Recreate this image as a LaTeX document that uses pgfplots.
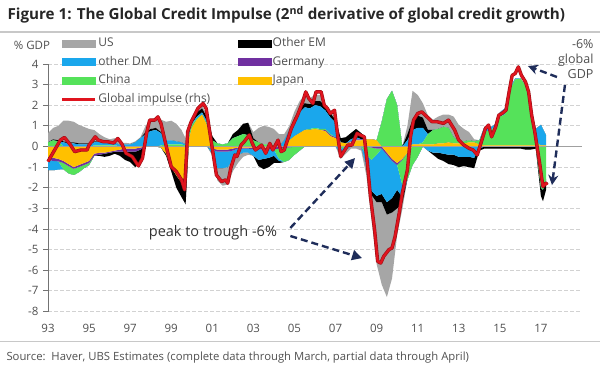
\documentclass[border=0pt]{standalone}
\usepackage{fontspec}
\setmainfont{Open Sans}
\usepackage{pgfplots}
\usepackage{pgfplotstable}
\pgfplotsset{compat=1.18}
\usetikzlibrary{arrows.meta}

\definecolor{cUS}{HTML}{A6A6A6}
\definecolor{cDM}{HTML}{1AA7EC}
\definecolor{cCN}{HTML}{55E25A}
\definecolor{cEM}{HTML}{000000}
\definecolor{cDE}{HTML}{7030A0}
\definecolor{cJP}{HTML}{FFC000}
\definecolor{cRed}{HTML}{E0141E}
\definecolor{cNavy}{HTML}{1F2D5A}
\definecolor{cGrid}{HTML}{D2D2D2}
\definecolor{cZero}{HTML}{A0A0A0}
\definecolor{cRule}{HTML}{C8C8C8}
\definecolor{cTxt}{HTML}{505050}

% contributions by region (% GDP)
\pgfplotstableread{
t jp de cn dm em us
1993.00 -0.50 -0.15 0.20 -0.50 0.00 0.45
1993.25 -0.55 -0.15 0.30 -0.45 0.05 0.55
1993.50 -0.60 -0.12 0.25 -0.40 0.05 0.70
1993.75 -0.70 -0.10 -0.30 0.20 0.05 1.00
1994.00 -0.85 -0.10 -0.35 0.15 0.05 1.05
1994.25 -1.00 -0.08 -0.30 0.15 0.05 1.00
1994.50 -0.90 -0.10 -0.25 0.10 0.05 0.90
1994.75 -0.80 -0.10 -0.15 0.10 0.05 0.80
1995.00 -0.70 -0.10 -0.10 0.10 0.05 0.70
1995.25 -0.35 -0.10 0.05 0.15 0.05 0.55
1995.50 -0.30 -0.10 0.05 0.20 -0.05 0.35
1995.75 -0.30 -0.05 0.05 0.15 -0.15 0.25
1996.00 -0.25 -0.05 0.05 0.10 -0.15 0.20
1996.25 -0.20 -0.05 0.05 0.15 -0.10 0.20
1996.50 -0.15 -0.10 0.02 0.05 -0.20 0.10
1996.75 -0.10 -0.15 0.00 0.10 -0.40 0.08
1997.00 -0.10 -0.15 0.00 0.10 -0.50 0.05
1997.25 -0.10 -0.15 0.00 0.20 -0.75 0.05
1997.50 -0.05 -0.10 0.00 0.40 -0.55 0.05
1997.75 0.00 0.00 0.00 0.60 0.10 0.30
1998.00 0.00 0.00 0.00 0.75 0.10 0.45
1998.25 0.00 0.00 0.00 0.80 0.10 0.50
1998.50 -0.05 0.00 0.05 0.60 0.05 0.60
1998.75 -0.35 0.00 0.10 0.20 -0.10 0.90
1999.00 -1.00 0.00 0.10 0.20 -0.20 0.95
1999.25 -1.40 0.00 0.10 0.15 -0.60 0.85
1999.50 -1.75 0.00 0.10 0.10 -0.70 0.60
1999.70 -2.00 0.00 0.05 0.05 -0.80 0.30
1999.85 0.30 0.00 0.20 0.05 0.10 0.10
2000.00 0.90 0.00 0.15 0.05 0.10 0.10
2000.25 1.30 0.00 0.05 0.10 0.20 0.15
2000.50 1.55 0.00 0.00 0.10 0.20 0.15
2000.75 1.00 0.00 0.10 0.10 0.20 0.10
2001.00 -0.10 -0.05 0.30 -0.20 0.20 -0.10
2001.25 -0.15 -0.10 0.15 -0.80 0.00 -0.60
2001.50 -0.15 -0.10 0.10 -0.80 0.00 -0.85
2001.75 -0.15 -0.10 0.15 -0.75 0.00 -0.85
2002.00 -0.10 -0.10 0.40 -0.40 0.20 -0.60
2002.25 -0.05 -0.05 0.50 -0.30 0.30 -0.40
2002.50 -0.05 -0.05 0.60 -0.20 0.50 -0.20
2002.75 -0.05 -0.05 0.55 -0.20 0.60 -0.10
2003.00 -0.05 -0.10 0.30 -0.30 0.10 0.30
2003.25 -0.05 -0.10 0.20 -0.50 -0.30 0.70
2003.50 -0.05 -0.10 0.10 -0.45 -0.50 0.90
2003.75 -0.05 -0.10 0.10 -0.40 -0.45 0.85
2004.00 -0.05 -0.10 0.05 -0.30 -0.35 0.80
2004.25 0.00 -0.10 -0.50 -0.10 -0.10 0.60
2004.50 0.00 -0.05 -0.70 0.30 0.00 0.30
2004.75 0.30 -0.05 -0.60 0.50 0.00 0.20
2005.00 0.50 0.00 -0.40 0.80 0.10 0.30
2005.25 0.65 0.00 -0.20 1.00 0.15 0.40
2005.50 0.80 0.00 0.00 1.10 0.20 0.40
2005.75 0.80 0.00 0.05 1.00 0.20 0.30
2006.00 0.85 0.00 0.05 1.10 0.20 0.30
2006.25 0.80 0.00 0.05 1.10 0.25 0.30
2006.50 0.75 0.05 0.05 0.90 0.20 0.10
2006.75 0.50 0.05 0.05 0.80 0.20 0.10
2007.00 0.40 0.05 0.00 0.70 0.15 0.10
2007.25 0.20 0.00 -0.10 -0.20 0.20 -0.30
2007.50 0.15 0.00 -0.05 -0.10 0.30 -0.20
2007.75 0.20 0.05 0.00 0.10 0.30 -0.10
2008.00 0.30 0.05 0.00 0.10 0.40 -0.10
2008.25 0.30 0.05 0.00 0.00 0.30 -0.20
2008.50 0.35 0.00 -0.40 -0.60 0.00 -0.40
2008.75 0.35 -0.05 -0.60 -1.50 -0.20 -1.20
2009.00 0.30 -0.10 -0.30 -2.00 -0.30 -3.00
2009.25 0.00 -0.10 1.20 -2.20 -0.40 -4.00
2009.50 -0.30 -0.10 2.30 -2.30 -0.60 -4.00
2009.75 -0.60 -0.10 2.70 -1.80 -0.70 -3.20
2010.00 -0.80 -0.10 2.00 -1.20 -0.90 -1.30
2010.25 -0.60 -0.05 -1.20 -0.60 -0.30 -0.30
2010.50 -0.30 0.00 -1.30 0.30 0.30 0.40
2010.75 0.10 0.00 -0.90 0.70 0.50 1.40
2011.00 0.10 0.00 -0.50 0.80 0.60 1.00
2011.25 0.10 0.00 0.10 0.70 0.50 0.70
2011.50 0.10 0.00 0.50 -0.20 0.20 0.70
2011.75 0.10 0.00 0.70 -0.30 -0.10 0.50
2012.00 0.15 0.00 0.70 -0.30 -0.30 0.60
2012.25 0.15 0.00 0.80 -0.35 -0.35 0.60
2012.50 0.20 0.00 0.70 -0.40 -0.45 0.65
2012.75 0.15 0.00 0.30 -0.40 -0.50 1.00
2013.00 0.15 0.00 0.10 -0.50 -0.50 0.80
2013.25 0.15 0.00 0.10 -0.50 -0.45 0.60
2013.50 0.20 0.00 0.10 -0.50 -0.50 0.40
2013.75 0.20 0.00 0.05 -0.55 -0.50 0.10
2014.00 0.10 0.00 0.20 -0.10 -0.10 0.00
2014.25 0.05 0.00 0.70 0.20 -0.10 0.00
2014.50 0.05 0.00 0.70 0.15 -0.10 0.00
2014.75 0.05 0.00 0.90 0.10 -0.10 0.00
2015.00 0.05 0.00 1.40 0.20 -0.10 0.00
2015.25 0.05 0.00 1.50 0.30 -0.10 0.00
2015.50 0.05 0.00 2.70 0.10 -0.10 0.00
2015.75 0.05 0.00 3.20 0.05 -0.10 0.00
2016.00 0.05 0.00 3.25 0.00 -0.10 0.00
2016.25 0.05 0.00 2.90 0.00 -0.15 0.00
2016.50 0.05 0.00 1.70 0.10 -0.15 0.00
2016.75 0.05 0.00 0.20 0.60 -0.10 0.00
2017.00 0.05 0.00 -2.00 1.00 -0.40 0.00
2017.10 0.05 0.00 -2.10 0.80 -0.55 0.00
2017.25 0.05 0.00 -1.60 0.50 -0.50 0.00
}\comp

% global credit impulse
\pgfplotstableread{
t g
1993.00 -0.73
1993.60 0.31
1993.80 0.44
1994.10 0.07
1994.30 -0.25
1994.60 -0.17
1994.90 -0.17
1995.00 0.07
1995.30 0.47
1995.45 0.31
1995.70 0.23
1995.90 0.23
1996.20 0.17
1996.40 0.39
1996.60 0.12
1996.80 -0.33
1997.10 -0.49
1997.40 -0.94
1997.60 -0.57
1997.80 0.64
1997.95 1.28
1998.20 1.28
1998.35 1.44
1998.50 1.12
1998.80 -0.17
1999.00 -0.98
1999.25 -1.22
1999.50 -1.62
1999.65 -2.10
1999.80 0.72
1999.97 1.20
2000.30 1.85
2000.55 2.09
2000.70 1.85
2000.95 0.23
2001.20 -1.38
2001.45 -1.70
2001.65 -1.62
2001.75 -1.78
2001.90 -1.05
2002.10 -0.41
2002.20 -0.49
2002.40 0.07
2002.55 0.23
2002.80 0.56
2002.95 0.15
2003.10 -0.17
2003.40 0.07
2003.60 -0.33
2003.80 0.15
2003.95 -0.17
2004.20 0.31
2004.35 -0.25
2004.50 -0.17
2004.85 0.88
2005.15 1.52
2005.40 2.16
2005.55 2.65
2005.70 2.33
2005.90 2.09
2006.05 2.65
2006.30 2.65
2006.45 2.00
2006.60 1.85
2006.75 1.60
2006.95 1.76
2007.10 0.56
2007.25 -0.49
2007.40 -0.25
2007.60 0.07
2007.80 0.07
2008.05 0.64
2008.20 0.56
2008.40 0.47
2008.55 -0.81
2008.70 -2.43
2008.90 -4.03
2009.05 -5.57
2009.20 -5.65
2009.35 -5.32
2009.60 -5.00
2009.75 -4.92
2009.90 -4.36
2010.10 -3.23
2010.25 -2.26
2010.50 -1.13
2010.65 0.47
2010.80 1.28
2011.00 1.60
2011.20 1.68
2011.45 1.44
2011.70 1.20
2011.95 1.20
2012.25 1.12
2012.50 1.28
2012.80 0.80
2013.00 0.31
2013.25 0.07
2013.50 -0.09
2013.70 -0.17
2013.90 -0.41
2014.10 0.23
2014.30 0.88
2014.45 1.04
2014.60 0.47
2014.80 0.96
2014.95 1.52
2015.10 1.60
2015.30 1.76
2015.45 2.65
2015.60 3.45
2015.75 3.54
2015.90 3.86
2016.05 3.45
2016.25 3.13
2016.40 2.65
2016.55 1.52
2016.70 0.72
2016.80 0.07
2016.95 -0.89
2017.05 -1.62
2017.10 -1.94
2017.25 -1.78
2017.30 -1.86
}\glob

\pgfplotsset{
  base/.style={
    width=534pt, height=247.5pt, scale only axis,
    xmin=1993, xmax=2019, ymin=-8, ymax=4,
  },
  ar/.style={draw=none, fill=#1, mark=none, line join=round},
}

\begin{document}
\begin{tikzpicture}
\path[use as bounding box] (-48pt,-61.5pt) rectangle (552pt,311.5pt);

% axis 1: grid, axes, negative contributions
\begin{axis}[base, stack plots=y,
  axis lines*=left,
  x axis line style={draw=none},
  y axis line style={draw=black!55, line width=0.8pt},
  xtick={1993,1995,...,2017},
  xticklabels={93,95,97,99,01,03,05,07,09,11,13,15,17},
  xtick style={draw=none},
  ytick={-8,-7,...,4},
  ytick style={draw=black!55, line width=0.8pt},
  tick align=outside, major tick length=5pt,
  /pgf/number format/assume math mode=true,
  ticklabel style={font=\fontsize{11.5}{12}\selectfont, text=cTxt},
  xticklabel style={yshift=-4pt},
  yticklabel style={xshift=-1pt},
  ymajorgrids,
  grid style={cGrid, dash pattern=on 4pt off 2pt, line width=0.8pt},
]
\addplot[ar=cJP] table[x=t, y expr={min(\thisrow{jp},0)}]{\comp} \closedcycle;
\addplot[ar=cDE] table[x=t, y expr={min(\thisrow{de},0)}]{\comp} \closedcycle;
\addplot[ar=cCN] table[x=t, y expr={min(\thisrow{cn},0)}]{\comp} \closedcycle;
\addplot[ar=cDM] table[x=t, y expr={min(\thisrow{dm},0)}]{\comp} \closedcycle;
\addplot[ar=cEM] table[x=t, y expr={min(\thisrow{em},0)}]{\comp} \closedcycle;
\addplot[ar=cUS] table[x=t, y expr={min(\thisrow{us},0)}]{\comp} \closedcycle;
\end{axis}

% axis 2: positive contributions
\begin{axis}[base, stack plots=y, hide axis]
\addplot[ar=cJP] table[x=t, y expr={max(\thisrow{jp},0)}]{\comp} \closedcycle;
\addplot[ar=cDE] table[x=t, y expr={max(\thisrow{de},0)}]{\comp} \closedcycle;
\addplot[ar=cCN] table[x=t, y expr={max(\thisrow{cn},0)}]{\comp} \closedcycle;
\addplot[ar=cDM] table[x=t, y expr={max(\thisrow{dm},0)}]{\comp} \closedcycle;
\addplot[ar=cEM] table[x=t, y expr={max(\thisrow{em},0)}]{\comp} \closedcycle;
\addplot[ar=cUS] table[x=t, y expr={max(\thisrow{us},0)}]{\comp} \closedcycle;
\end{axis}

% axis 3: zero line, global impulse, legend, annotations
\begin{axis}[base, hide axis, clip=false,
  legend columns=2,
  legend cell align=left,
  legend style={at={(0.0243,1.113)}, anchor=north west, draw=none, fill=none,
    inner sep=0pt, outer sep=0pt,
    font=\fontsize{12}{13}\selectfont, text=cTxt,
    row sep=3.6pt,
    nodes={inner sep=1.5pt, text height=9pt, text depth=3pt},
    /tikz/every even column/.append style={column sep=26pt}},
]
\addlegendimage{legend image code/.code={\fill[cUS] (0pt,-3.5pt) rectangle (33pt,3.5pt);}}
\addlegendentry{US}
\addlegendimage{legend image code/.code={\fill[cEM] (0pt,-3.5pt) rectangle (33pt,3.5pt);}}
\addlegendentry{Other EM}
\addlegendimage{legend image code/.code={\fill[cDM] (0pt,-3.5pt) rectangle (33pt,3.5pt);}}
\addlegendentry{other DM}
\addlegendimage{legend image code/.code={\fill[cDE] (0pt,-3.5pt) rectangle (33pt,3.5pt);}}
\addlegendentry{Germany}
\addlegendimage{legend image code/.code={\fill[cCN] (0pt,-3.5pt) rectangle (33pt,3.5pt);}}
\addlegendentry{China}
\addlegendimage{legend image code/.code={\fill[cJP] (0pt,-3.5pt) rectangle (33pt,3.5pt);}}
\addlegendentry{Japan}
\addlegendimage{legend image code/.code={\draw[cRed, line width=3pt] (0pt,0pt) -- (33pt,0pt);}}
\addlegendentry{Global impulse (rhs)}

\addplot[cZero, line width=1.6pt, forget plot] coordinates {(1993,0) (2019,0)};
\addplot[cRed!70!black, line width=3.4pt, line join=round, mark=none, forget plot] table[x=t, y=g]{\glob};
\addplot[cRed, line width=2.2pt, line join=round, mark=none, forget plot] table[x=t, y=g]{\glob};

\draw[cNavy, line width=2.4pt, dash pattern=on 7pt off 4pt, -{Stealth[length=10pt,width=10pt]}]
  (axis cs:2017.78,3.37) -- (axis cs:2016.37,3.90);
\draw[cNavy, line width=2.4pt, dash pattern=on 7pt off 4pt, -{Stealth[length=10pt,width=10pt]}]
  (axis cs:2018.17,2.98) -- (axis cs:2017.54,-1.87);
\draw[cNavy, line width=2.4pt, dash pattern=on 7pt off 4pt, -{Triangle[length=10pt,width=10pt]}]
  (axis cs:2004.80,-3.95) -- (axis cs:2007.95,-0.56);
\draw[cNavy, line width=2.4pt, dash pattern=on 7pt off 4pt, -{Triangle[length=10pt,width=10pt]}]
  (axis cs:2004.80,-4.34) -- (axis cs:2008.29,-5.41);
\node[font=\fontsize{14.5}{16}\selectfont, text=black!80] at (axis cs:2001.03,-4.2) {peak to trough -6\%};
\end{axis}

% titles and notes
\node[anchor=west, font=\fontsize{15.2}{17}\bfseries\selectfont, text=black!85] at (-44pt,296.5pt)
  {Figure 1: The Global Credit Impulse (2\textsuperscript{nd} derivative of global credit growth)};
\draw[cRule, line width=1.6pt] (-48pt,279.5pt) -- (552pt,279.5pt);
\node[font=\fontsize{11.5}{12}\selectfont, text=cTxt] at (-16pt,266.5pt) {\% GDP};
\node[anchor=north east, align=right, font=\fontsize{12.5}{15}\selectfont, text=cTxt] at (549pt,276pt)
  {-6\%\\global\\GDP};
\draw[cRule, line width=1.6pt] (-48pt,-30pt) -- (552pt,-30pt);
\node[anchor=west, font=\fontsize{11.3}{12}\selectfont, text=cTxt] at (-45pt,-46.5pt)
  {Source:\ \ Haver, UBS Estimates (complete data through March, partial data through April)};
\end{tikzpicture}
\end{document}
